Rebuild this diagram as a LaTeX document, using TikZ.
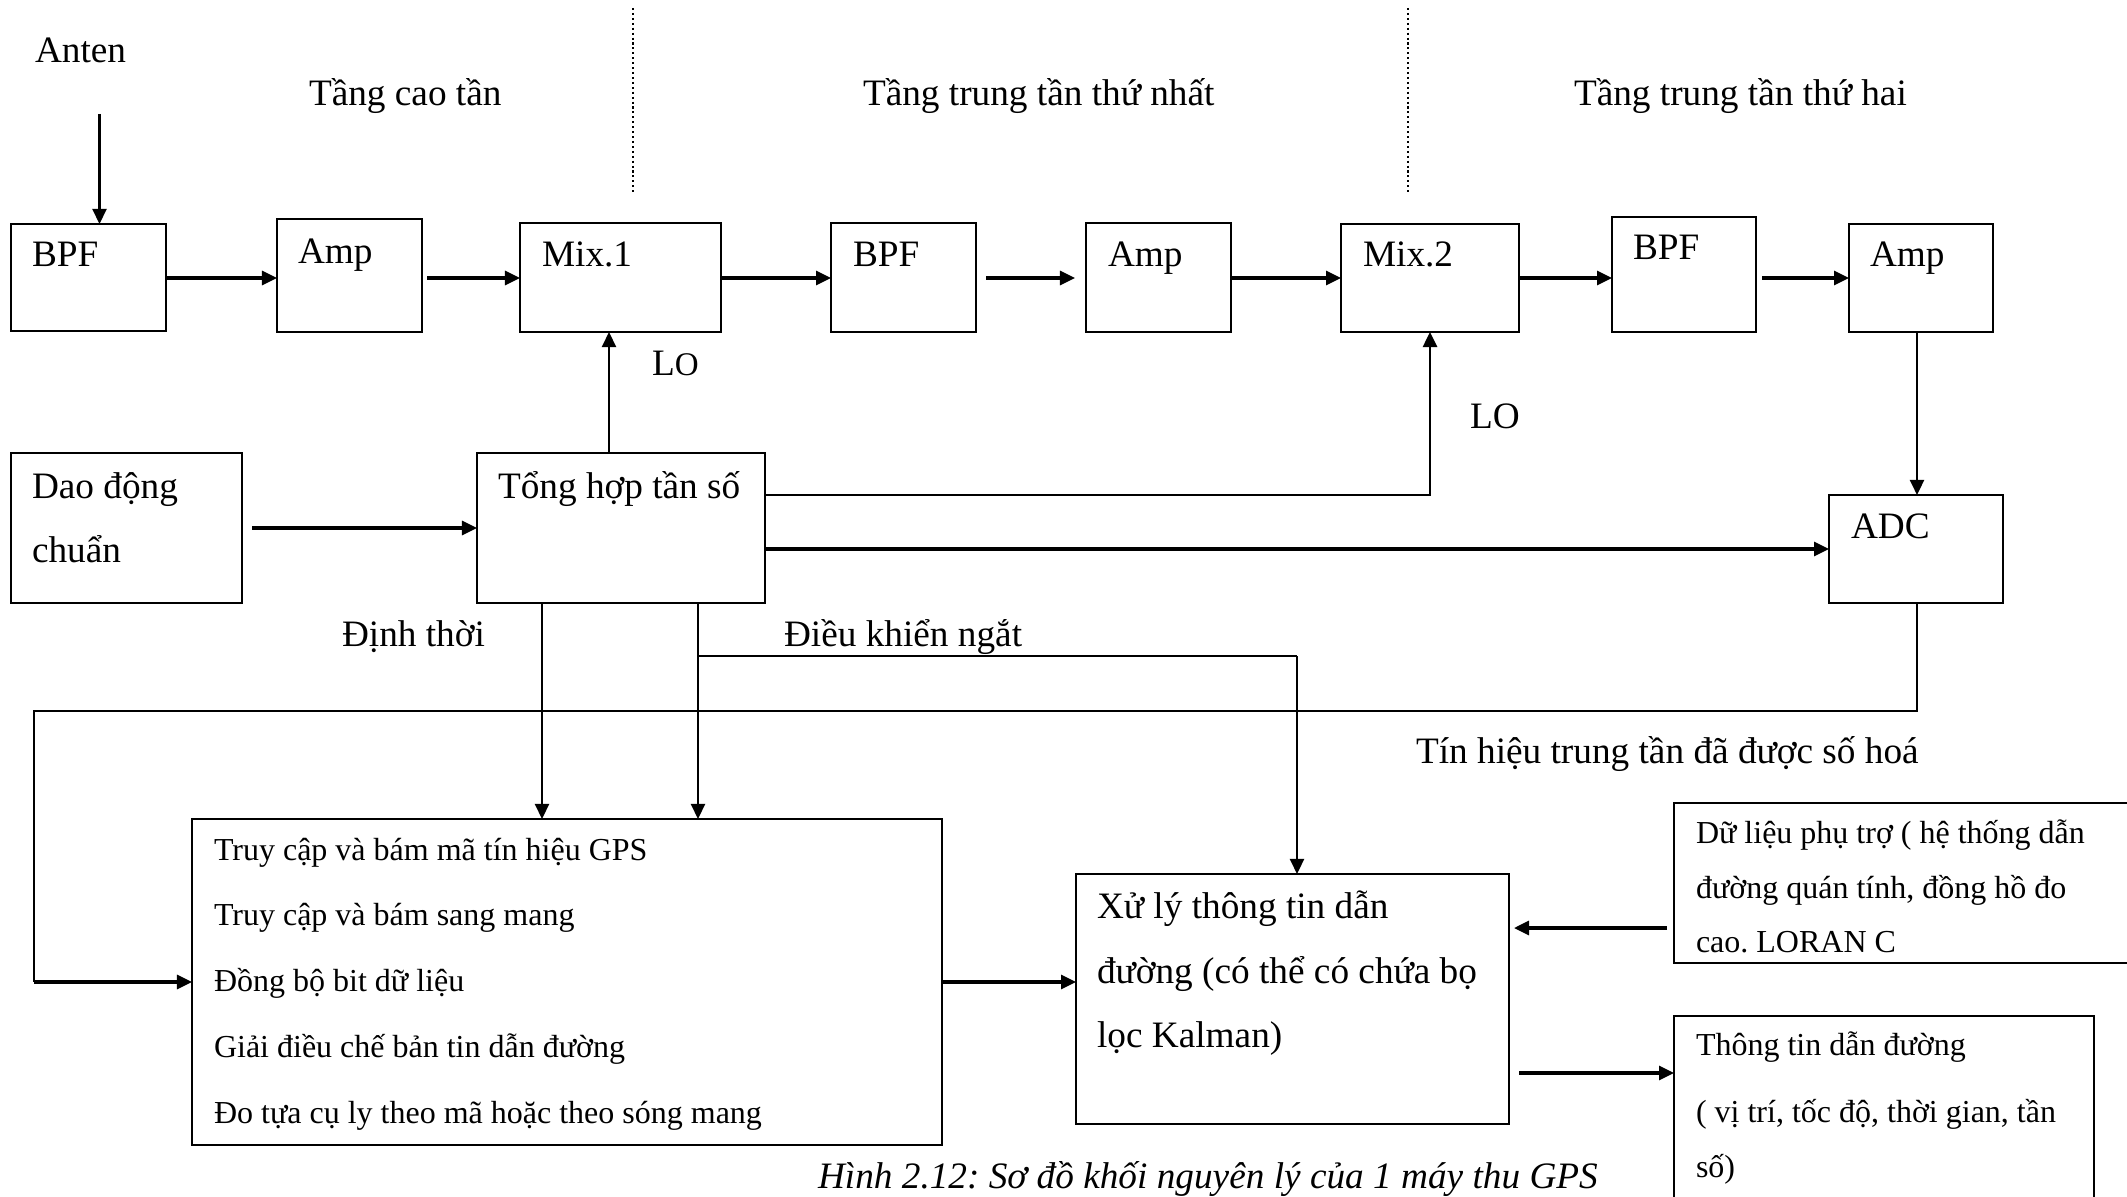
\documentclass[tikz,border=0pt]{standalone}
\usepackage{fontspec}
\setmainfont{Liberation Serif}
\usetikzlibrary{arrows.meta,fit}
\frenchspacing
\begin{document}
\begin{tikzpicture}[x=0.01cm, y=-0.01cm,
  blockbox/.style={draw, line width=0.7pt, inner sep=0pt, outer sep=0pt},
  lbl/.style={anchor=base west, inner sep=0pt, outer sep=0pt, font=\fontsize{10.6}{12}\selectfont},
  sml/.style={anchor=base west, inner sep=0pt, outer sep=0pt, font=\fontsize{9.1}{11}\selectfont},
  capt/.style={anchor=base west, inner sep=0pt, outer sep=0pt, font=\fontsize{10.6}{12}\selectfont\itshape},
  tipp/.tip={Triangle[length=0.15cm, width=0.14cm]},
  arrthick/.style={line width=0.9pt, -tipp},
  arrthin/.style={line width=0.6pt, -tipp},
  wire/.style={line width=0.6pt},
  stagesep/.style={line width=0.45pt, dash pattern=on 0.6pt off 0.8pt}
]
\useasboundingbox (0,0) rectangle (2127,1197);
\clip (0,0) rectangle (2127,1197);

% ---------- blocks ----------
\node[blockbox, fit={(11,224) (166,331)}]   (bpf1) {};
\node[blockbox, fit={(277,219) (422,332)}]  (amp1) {};
\node[blockbox, fit={(520,223) (721,332)}]  (mix1) {};
\node[blockbox, fit={(831,223) (976,332)}]  (bpf2) {};
\node[blockbox, fit={(1086,223) (1231,332)}] (amp2) {};
\node[blockbox, fit={(1341,224) (1519,332)}] (mix2) {};
\node[blockbox, fit={(1612,217) (1756,332)}] (bpf3) {};
\node[blockbox, fit={(1849,224) (1993,332)}] (amp3) {};
\node[blockbox, fit={(11,453) (242,603)}]   (dao) {};
\node[blockbox, fit={(477,453) (765,603)}]  (tong) {};
\node[blockbox, fit={(1829,495) (2003,603)}] (adc) {};
\node[blockbox, fit={(192,819) (942,1145)}] (big) {};
\node[blockbox, fit={(1076,874) (1509,1124)}] (xuly) {};
\node[blockbox, fit={(1674,803) (2170,963)}] (aux) {};
\node[blockbox, fit={(1674,1016) (2094,1240)}] (out) {};

% ---------- block texts ----------
\node[lbl] (tbpf1) at (32,267) {BPF};
\node[lbl] (tamp1) at (298,264) {Amp};
\node[lbl] (tmix1) at (542,267) {Mix.1};
\node[lbl] (tbpf2) at (853,267) {BPF};
\node[lbl] (tamp2) at (1108,267) {Amp};
\node[lbl] (tmix2) at (1363,267) {Mix.2};
\node[lbl] (tbpf3) at (1633,260) {BPF};
\node[lbl] (tamp3) at (1870,267) {Amp};
\node[lbl] (tdao1) at (32,498) {Dao động};
\node[lbl] (tdao2) at (32,562) {chuẩn};
\node[lbl] (ttong) at (498,498) {Tổng hợp tần số};
\node[lbl] (tadc)  at (1851,538) {ADC};

\node[sml] (tb1) at (214,860)  {Truy cập và bám mã tín hiệu GPS};
\node[sml] (tb2) at (214,925)  {Truy cập và bám sang mang};
\node[sml] (tb3) at (214,991)  {Đồng bộ bit dữ liệu};
\node[sml] (tb4) at (214,1057) {Giải điều chế bản tin dẫn đường};
\node[sml] (tb5) at (214,1123) {Đo tựa cụ ly theo mã hoặc theo sóng mang};

\node[lbl] (tx1) at (1097,918)  {Xử lý thông tin dẫn};
\node[lbl] (tx2) at (1097,983)  {đường (có thể có chứa bọ};
\node[lbl] (tx3) at (1097,1047) {lọc Kalman)};

\node[sml] (ta1) at (1696,843) {Dữ liệu phụ trợ ( hệ thống dẫn};
\node[sml] (ta2) at (1696,898) {đường quán tính, đồng hồ đo};
\node[sml] (ta3) at (1696,952) {cao. LORAN C};

\node[sml] (to1) at (1696,1055) {Thông tin dẫn đường};
\node[sml] (to2) at (1696,1122) {( vị trí, tốc độ, thời gian, tần};
\node[sml] (to3) at (1696,1177) {số)};

% ---------- free labels ----------
\node[lbl] (anten) at (35,63)   {Anten};
\node[lbl] (st1)   at (309,106) {Tầng cao tần};
\node[lbl] (st2)   at (863,106) {Tầng trung tần thứ nhất};
\node[lbl] (st3)   at (1574,106) {Tầng trung tần thứ hai};
\node[lbl] (lo1)   at (652,375) {L{\fontsize{9.4}{11}\selectfont O}};
\node[lbl] (lo2)   at (1470,428) {LO};
\node[lbl] (dinh)  at (342,646) {Định thời};
\node[lbl] (dk)    at (784,646) {Điều khiển ngắt};
\node[lbl] (tin)   at (1416,763) {Tín hiệu trung tần đã được số hoá};
\node[capt] (caption) at (818,1188) {Hình 2.12: Sơ đồ khối nguyên lý của 1 máy thu GPS};

% ---------- stage separators ----------
\coordinate (s1a) at (633,8);   \coordinate (s1b) at (633,193);
\coordinate (s2a) at (1408,8);  \coordinate (s2b) at (1408,193);
\draw[stagesep] (s1a) -- (s1b);
\draw[stagesep] (s2a) -- (s2b);

% ---------- helper coordinates ----------
\coordinate (row)   at (0,278);
\coordinate (antin) at (99.5,114);
\coordinate (lox)   at (609,0);
\coordinate (adcx)  at (1917,0);
\coordinate (timx)  at (542,0);
\coordinate (intx)  at (698,0);
\coordinate (intrt) at (1297,656);
\coordinate (busy)  at (0,711);
\coordinate (busx)  at (34,0);
\coordinate (auxy)  at (0,928);
\coordinate (outy)  at (0,1073);

% ---------- RF / IF chain ----------
\draw[arrthin]  (antin) -- (antin |- bpf1.north);
\draw[arrthick] (bpf1.east |- row) -- (amp1.west |- row);
\draw[arrthick, shorten <=0.05cm] (amp1.east |- row) -- (mix1.west |- row);
\draw[arrthick] (mix1.east |- row) -- (bpf2.west |- row);
\draw[arrthick, shorten <=0.1cm, shorten >=0.11cm] (bpf2.east |- row) -- (amp2.west |- row);
\draw[arrthick] (amp2.east |- row) -- (mix2.west |- row);
\draw[arrthick] (mix2.east |- row) -- (bpf3.west |- row);
\draw[arrthick, shorten <=0.06cm] (bpf3.east |- row) -- (amp3.west |- row);

% ---------- local oscillator paths ----------
\draw[arrthick, shorten <=0.1cm] (dao.east) -- (tong.west);
\draw[arrthin]  (tong.north -| lox) -- (mix1.south -| lox);
\draw[arrthin, line width=0.75pt] (tong.east |- adc.north) -| (mix2.south);
\draw[arrthick] (adc.west -| tong.east) -- (adc.west);
\draw[arrthin]  (amp3.south -| adcx) -- (adc.north -| adcx);

% ---------- timing and control ----------
\draw[arrthin] (tong.south -| timx) -- (big.north -| timx);
\draw[arrthin] (tong.south -| intx) -- (big.north -| intx);
\draw[wire] (intx |- intrt) -- (intrt);
\draw[arrthin] (intrt) -- (intrt |- xuly.north);

% ---------- digitised IF bus ----------
\draw[wire] (adc.south -| adcx) -- (adcx |- busy) -- (busx |- busy) -- (busx |- big.west);
\draw[arrthick] (busx |- big.west) -- (big.west);

% ---------- navigation processing ----------
\draw[arrthick] (big.east) -- (xuly.west |- big.east);
\draw[arrthick, shorten <=0.07cm, shorten >=0.05cm] (aux.west |- auxy) -- (xuly.east |- auxy);
\draw[arrthick, shorten <=0.1cm] (xuly.east |- outy) -- (out.west |- outy);
\end{tikzpicture}
\end{document}
